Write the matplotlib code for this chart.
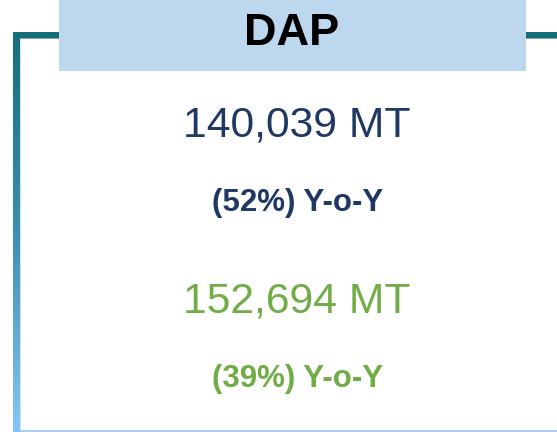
import numpy as np
import matplotlib.pyplot as plt
from matplotlib.colors import LinearSegmentedColormap
from matplotlib.patches import Rectangle

plt.rcParams['font.family'] = ['Liberation Sans', 'DejaVu Sans']

product = 'DAP'
volumes = [140039, 152694]          # MT
yoy = [52, 39]                      # % change, shown in brackets
colors = ['#203864', '#70AD47']

W, H = 557, 432
fig = plt.figure(figsize=(W / 100, H / 100), dpi=100)
ax = fig.add_axes([0, 0, 1, 1])
ax.set_xlim(0, W)
ax.set_ylim(H, 0)
ax.axis('off')

# left bar with gradient (teal -> light blue)
cmap = LinearSegmentedColormap.from_list('bar', ['#156E78', '#3E8FB0', '#85C6F6'])
grad = np.linspace(0, 1, 256).reshape(-1, 1)
ax.imshow(grad, cmap=cmap, aspect='auto', extent=[13, 20, H, 32], zorder=2)
ax.add_patch(Rectangle((20, 38), 1.2, H - 38, color='#B9D9F0', alpha=0.7, lw=0, zorder=2))

# top bars
ax.add_patch(Rectangle((13, 32), W - 13, 6, color='#156E78', lw=0, zorder=2))
ax.add_patch(Rectangle((20, 38), W - 20, 1.2, color='#7FA6AE', lw=0, zorder=2))
# bottom line
ax.add_patch(Rectangle((20, 430), W - 20, 2, color='#A9CFF0', lw=0, zorder=2))

# header box
ax.add_patch(Rectangle((59, 0), 467, 71, color='#BDD7EE', lw=0, zorder=3))
ax.text(292, 45, product, fontsize=32.5, fontweight='bold', color='black',
        ha='center', va='baseline', zorder=4)

big_y = [136, 312]
small_y = [211, 387]
for v, p, c, by, sy in zip(volumes, yoy, colors, big_y, small_y):
    ax.text(296.5, by, f'{v:,} MT', fontsize=30.7, color=c, ha='center', va='baseline')
    ax.text(297.5, sy, f'({p}%) Y-o-Y', fontsize=22.5, fontweight='bold', color=c,
            ha='center', va='baseline')

fig.savefig('out.png', dpi=100)
